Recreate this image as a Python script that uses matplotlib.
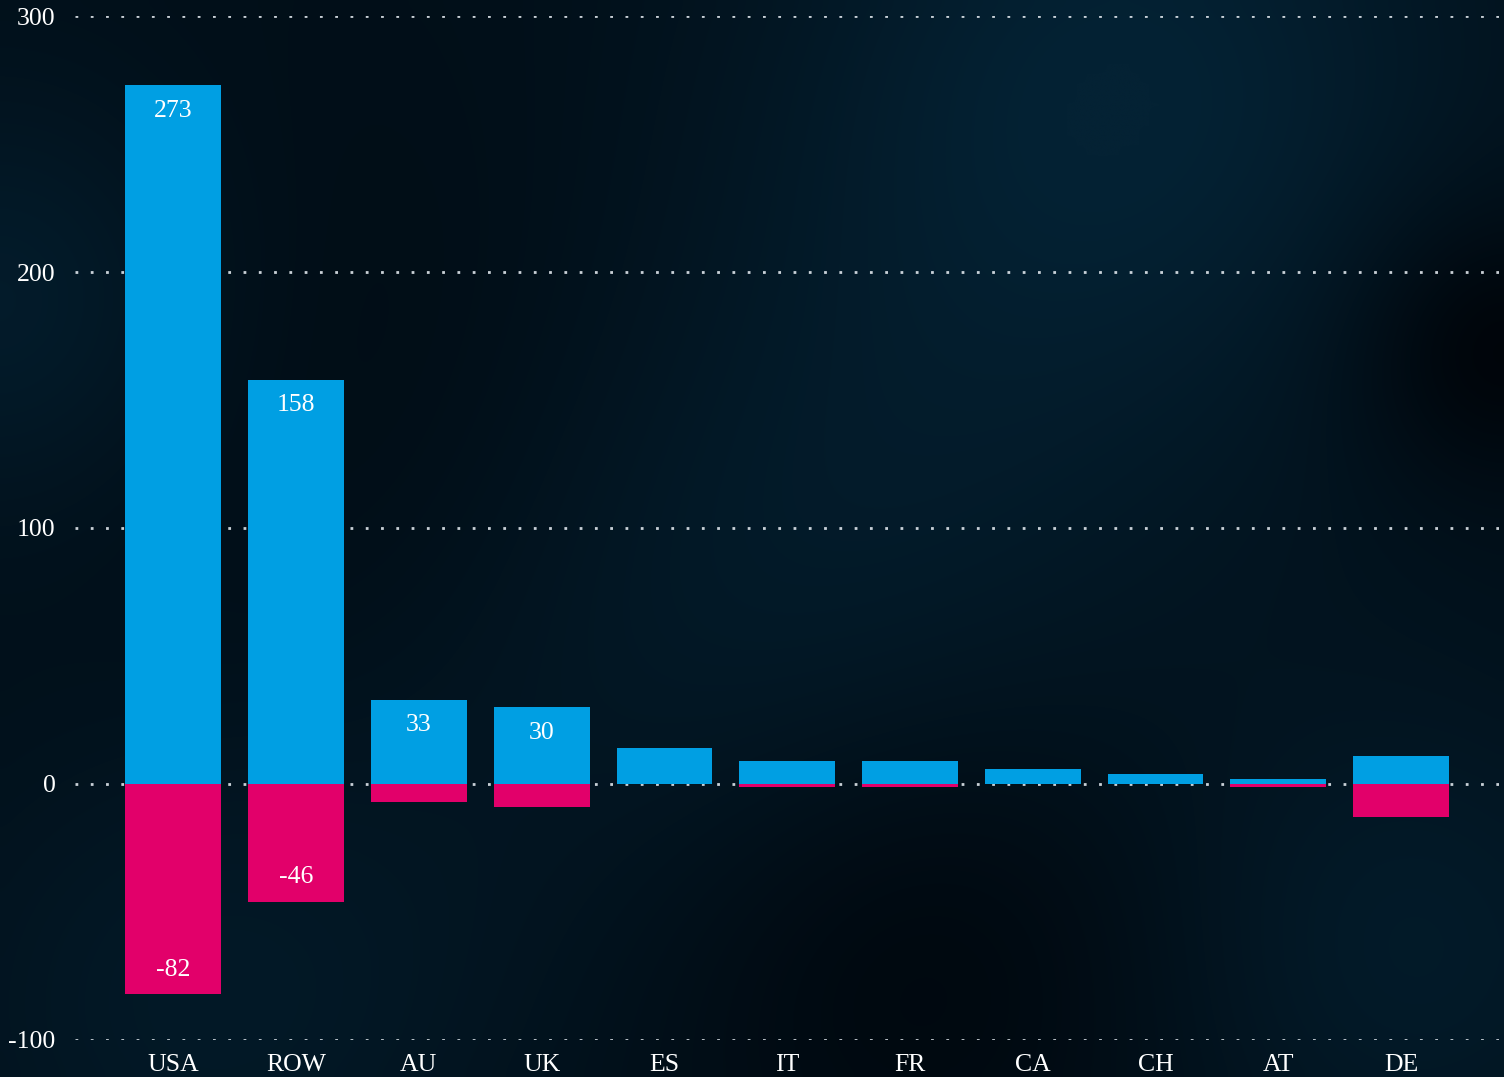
import numpy as np
import matplotlib.pyplot as plt

# data
countries = ['USA', 'ROW', 'AU', 'UK', 'ES', 'IT', 'FR', 'CA', 'CH', 'AT', 'DE']
positive = [273, 158, 33, 30, 14, 9, 9, 6, 4, 2, 11]
negative = [-82, -46, -7, -9, 0, -1, -1, 0, 0, -1, -13]
yticks = [-100, 0, 100, 200, 300]

blue = '#009fe3'
pink = '#e2006a'
plt.rcParams['font.family'] = ['Liberation Serif', 'DejaVu Serif']

fig = plt.figure(figsize=(15.04, 10.77), dpi=100)

# blurred dark background
bg = fig.add_axes([0, 0, 1, 1], zorder=-10)
h, w = 108, 150
yy, xx = np.mgrid[0:h, 0:w]
def blob(cx, cy, r, amp):
    return amp * np.exp(-(((xx - cx) ** 2 + (yy - cy) ** 2) / (2 * r ** 2)))
light = (blob(112, 8, 24, 1.0) + blob(75, 60, 28, 0.8) + blob(0, 30, 15, 0.7)
         + blob(140, 95, 18, 0.6) + blob(20, 100, 20, 0.5))
dark = blob(148, 34, 10, 0.9) + blob(90, 92, 20, 0.8) + blob(45, 45, 25, 0.45)
t = np.clip(0.38 + 0.6 * light - 0.5 * dark, 0, 1)[..., None]
c0 = np.array([0, 4, 9]) / 255
c1 = np.array([4, 34, 52]) / 255
bg.imshow(c0 + (c1 - c0) * t, aspect='auto', interpolation='bicubic')
bg.axis('off')

ax = fig.add_axes([0.0499, 0.0344, 0.947, 0.9507])
ax.set_facecolor('none')
x = np.arange(len(countries))
ax.bar(x, positive, width=0.78, color=blue, zorder=3)
ax.bar(x, negative, width=0.78, color=pink, zorder=3)

for xi, v in zip(x, positive):
    if v >= 20:
        ax.text(xi, v - 10, str(v), ha='center', va='center', color='white', fontsize=18.5, zorder=4)
for xi, v in zip(x, negative):
    if v <= -20:
        ax.text(xi, v + 9.5, str(v), ha='center', va='center', color='white', fontsize=18.5, zorder=4)

ax.set_xlim(-0.8, 10.8)
ax.set_ylim(-100, 300)
ax.set_yticks(yticks)
ax.set_yticklabels([str(v) for v in yticks])
ax.set_xticks(x)
ax.set_xticklabels(countries)
ax.tick_params(axis='both', length=0, colors='white', labelsize=18.5)
ax.tick_params(axis='y', pad=14)
ax.tick_params(axis='x', pad=10)
for s in ax.spines.values():
    s.set_visible(False)
ax.yaxis.grid(True, color='#e0e6ec', linestyle=(0, (1, 4.5)), linewidth=2, alpha=0.9, zorder=1)
ax.set_axisbelow(True)

fig.savefig('out.png', dpi=100)
